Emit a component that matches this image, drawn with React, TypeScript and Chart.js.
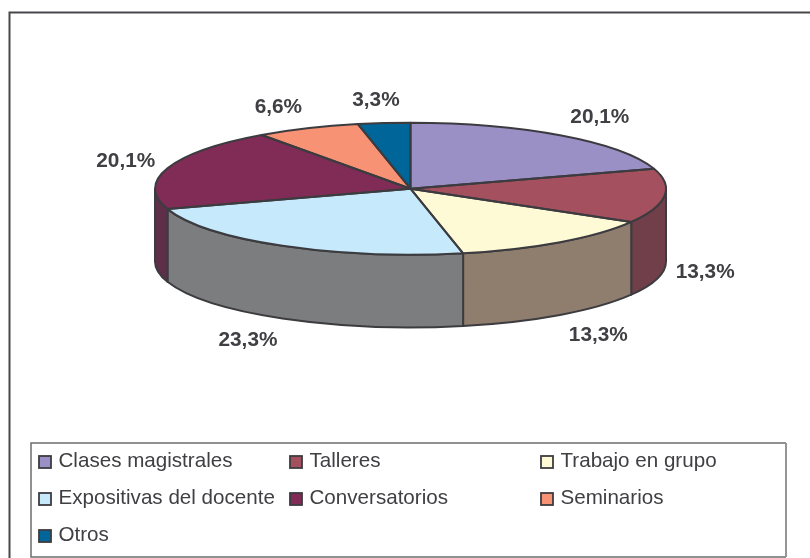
import React, { useEffect, useRef } from "react";
import { Chart, registerables } from "chart.js";

Chart.register(...registerables);

const categories = ["Clases magistrales", "Talleres", "Trabajo en grupo", "Expositivas del docente", "Conversatorios", "Seminarios", "Otros"];
const shares = [20.1, 13.3, 13.3, 23.3, 20.1, 6.6, 3.3];
const topColors = ["#9b90c6", "#a5505f", "#fffad6", "#c6e9fb", "#812c57", "#f79274", "#006699"];
const wallColors = ["#75708f", "#703f4a", "#8f7e6e", "#7c7d7f", "#5f2f4a", "#b06a55", "#004c70"];

const INK = "#3c3c40";
const TEXT = "#404044";
const FONT = "Liberation Sans";
const CX = 410.5, CY = 188.7, RX = 255.5, RY = 66, DEPTH = 72.7;
const LEGEND = { left: 31, top: 443, right: 786, bottom: 557 };
const LEGEND_COLS = [38, 289, 540];
const LEGEND_ROWS = [461.5, 498.5, 535.5];

const fmt = (v: number) => v.toFixed(1).replace(".", ",") + "%";

const pie3d = {
  id: "pie3d",
  beforeDraw(chart: any) {
    const ctx = chart.ctx;
    ctx.save();
    ctx.fillStyle = "#ffffff";
    ctx.fillRect(0, 0, chart.width, chart.height);
    ctx.strokeStyle = "#48484c";
    ctx.lineWidth = 2;
    ctx.beginPath();
    ctx.moveTo(9.5, chart.height);
    ctx.lineTo(9.5, 12.5);
    ctx.lineTo(chart.width, 12.5);
    ctx.stroke();
    ctx.restore();
  },
  beforeDatasetsDraw(chart: any) {
    const ctx = chart.ctx;
    const arcs = chart.getDatasetMeta(0).data;
    // walls
    arcs.forEach((arc: any, i: number) => {
      const s = arc.startAngle, e = arc.endAngle;
      const a0 = Math.max(s, 0), a1 = Math.min(e, Math.PI);
      if (a1 <= a0) return;
      ctx.save();
      ctx.beginPath();
      ctx.ellipse(CX, CY, RX, RY, 0, a0, a1, false);
      ctx.ellipse(CX, CY + DEPTH, RX, RY, 0, a1, a0, true);
      ctx.closePath();
      ctx.fillStyle = wallColors[i];
      ctx.fill();
      ctx.strokeStyle = INK;
      ctx.lineWidth = 2;
      ctx.lineJoin = "round";
      ctx.stroke();
      ctx.restore();
    });
    // flatten the pie itself into an ellipse
    const first = arcs[0];
    ctx.save();
    ctx.translate(CX, CY);
    ctx.scale(RX / first.outerRadius, RY / first.outerRadius);
    ctx.translate(-first.x, -first.y);
  },
  afterDatasetsDraw(chart: any) {
    const ctx = chart.ctx;
    ctx.restore();
    const arcs = chart.getDatasetMeta(0).data;
    ctx.save();
    ctx.strokeStyle = INK;
    ctx.lineWidth = 2;
    ctx.lineJoin = "round";
    arcs.forEach((arc: any) => {
      ctx.beginPath();
      ctx.moveTo(CX, CY);
      ctx.ellipse(CX, CY, RX, RY, 0, arc.startAngle, arc.endAngle, false);
      ctx.closePath();
      ctx.stroke();
    });
    ctx.restore();

    // percentage labels, placed around the ellipse from each slice's mid angle
    ctx.save();
    ctx.font = `bold 20.8px "${FONT}"`;
    ctx.fillStyle = TEXT;
    ctx.textAlign = "center";
    ctx.textBaseline = "middle";
    arcs.forEach((arc: any, i: number) => {
      const mid = (arc.startAngle + arc.endAngle) / 2;
      const c = Math.cos(mid), sn = Math.sin(mid);
      const px = CX + c * (296 + 38 * sn * sn);
      const py = CY + 90 * sn + (sn > 0 ? DEPTH : 0) + 1;
      ctx.fillText(fmt(shares[i]), px, py);
    });
    ctx.restore();

    // legend
    ctx.save();
    ctx.lineWidth = 1.5;
    ctx.strokeStyle = "#6c6c70";
    ctx.beginPath();
    ctx.moveTo(LEGEND.right, LEGEND.top);
    ctx.lineTo(LEGEND.left, LEGEND.top);
    ctx.lineTo(LEGEND.left, LEGEND.bottom);
    ctx.lineTo(LEGEND.right, LEGEND.bottom);
    ctx.stroke();
    ctx.strokeStyle = "#959598";
    ctx.lineWidth = 2;
    ctx.beginPath();
    ctx.moveTo(LEGEND.right, LEGEND.top);
    ctx.lineTo(LEGEND.right, LEGEND.bottom);
    ctx.stroke();
    ctx.font = `20.6px "${FONT}"`;
    ctx.textAlign = "left";
    ctx.textBaseline = "middle";
    categories.forEach((label, i) => {
      const col = LEGEND_COLS[i % 3], row = LEGEND_ROWS[Math.floor(i / 3)];
      ctx.fillStyle = topColors[i];
      ctx.fillRect(col + 1, row - 5.5, 12, 12);
      ctx.strokeStyle = INK;
      ctx.lineWidth = 1.8;
      ctx.strokeRect(col + 1, row - 5.5, 12, 12);
      ctx.fillStyle = TEXT;
      ctx.fillText(label, col + 20.5, row);
    });
    ctx.restore();
  },
};

export default function App() {
  const ref = useRef<HTMLCanvasElement | null>(null);
  useEffect(() => {
    document.body.style.margin = "0";
    const chart = new Chart(ref.current!, {
      type: "pie",
      data: {
        labels: categories,
        datasets: [{ data: shares, backgroundColor: topColors, borderWidth: 0 }],
      },
      options: {
        responsive: false,
        animation: false,
        radius: 256,
        plugins: { legend: { display: false }, tooltip: { enabled: false } },
      },
      plugins: [pie3d],
    } as any);
    return () => chart.destroy();
  }, []);
  return <canvas ref={ref} width={810} height={558} style={{ display: "block" }} />;
}
